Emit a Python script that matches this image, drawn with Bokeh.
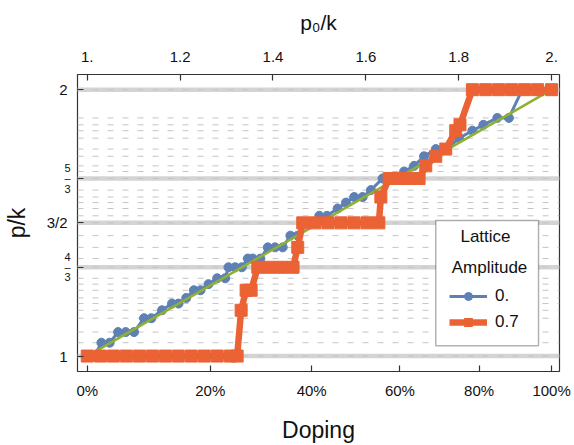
import math
from bokeh.plotting import figure
from bokeh.models import (Range1d, LinearAxis, FixedTicker, Span, Label,
                          BoxAnnotation, Legend, LegendItem)
from bokeh.embed import file_html
from bokeh.resources import INLINE

# ---------------- data ----------------
doping_ticks = [0.0, 0.2, 0.4, 0.6, 0.8, 1.0]
doping_labels = ["0%", "20%", "40%", "60%", "80%", "100%"]
p0_ticks = [1.0, 1.2, 1.4, 1.6, 1.8, 2.0]
p0_labels = ["1.", "1.2", "1.4", "1.6", "1.8", "2."]
pk_major = [1.0, 1.3333, 1.5, 1.6667, 2.0]
pk_major_labels = ["1", "", "3/2", "", "2"]
pk_frac_labels = ["", "4\n\u2013\n3", "", "5\n\u2013\n3", ""]
pk_levels = [1.0, 1.050, 1.090, 1.142, 1.172, 1.197, 1.218, 1.247, 1.270, 1.292,
             1.3333, 1.366, 1.408, 1.452, 1.5, 1.5265, 1.554, 1.576, 1.597, 1.623,
             1.6667, 1.693, 1.714, 1.750, 1.777, 1.818, 1.846, 1.868, 1.894, 2.0]

green_x = [1.0, 2.0]
green_y = [1.0, 2.0]

blue_x = [1.000, 1.0155, 1.0305, 1.0483, 1.0664, 1.0827, 1.1008, 1.1223, 1.1380, 1.1610,
          1.1825, 1.1966, 1.2132, 1.2297, 1.2439, 1.2611, 1.2798, 1.2970, 1.3041, 1.3185,
          1.3329, 1.3458, 1.3565, 1.3729, 1.3888, 1.4045, 1.4210, 1.4374, 1.4533, 1.4640,
          1.4818, 1.4997, 1.5162, 1.5392, 1.5571, 1.5749, 1.5930, 1.6108, 1.6359, 1.6581,
          1.6824, 1.7038, 1.7253, 1.7505, 1.7741, 1.8006, 1.8294, 1.8530, 1.8831, 1.9080,
          1.9368, 1.9654, 2.000]
blue_y = [1.0, 1.0, 1.050, 1.050, 1.090, 1.090, 1.090, 1.142, 1.142, 1.172,
          1.197, 1.197, 1.218, 1.247, 1.247, 1.270, 1.292, 1.292, 1.3333, 1.3333,
          1.3333, 1.366, 1.366, 1.366, 1.408, 1.408, 1.408, 1.452, 1.452, 1.5,
          1.5, 1.5265, 1.5265, 1.554, 1.576, 1.597, 1.597, 1.623, 1.6667, 1.6667,
          1.693, 1.714, 1.750, 1.777, 1.777, 1.818, 1.846, 1.868, 1.894, 1.894,
          2.0, 2.0, 2.0]

orange_x = [1.000, 1.0284, 1.0563, 1.0842, 1.1122, 1.1401, 1.1681, 1.1960, 1.2239, 1.2519,
            1.2798, 1.3078, 1.3228, 1.3314, 1.3421, 1.3529, 1.3673, 1.3916, 1.4174, 1.4432,
            1.4533, 1.4640, 1.4904, 1.5184, 1.5463, 1.5742, 1.6022, 1.6280, 1.6323, 1.6501,
            1.6710, 1.6925, 1.7146, 1.7290, 1.7505, 1.7720, 1.7935, 1.8027, 1.8294, 1.8580,
            1.8860, 1.9139, 1.9419, 1.9698, 2.000]
orange_y = [1.0, 1.0, 1.0, 1.0, 1.0, 1.0, 1.0, 1.0, 1.0, 1.0,
            1.0, 1.0, 1.0, 1.172, 1.247, 1.247, 1.3333, 1.3333, 1.3333, 1.3333,
            1.408, 1.5, 1.5, 1.5, 1.5, 1.5, 1.5, 1.5, 1.597, 1.6667,
            1.6667, 1.6667, 1.6667, 1.714, 1.750, 1.777, 1.846, 1.868, 2.0, 2.0,
            2.0, 2.0, 2.0, 2.0, 2.0]

legend_title = ["Lattice", "Amplitude"]
series_names = ["0.", "0.7"]
x_title_bottom = "Doping"
x_title_top = "p\u2080/k"
y_title = "p/k"

# ---------------- layout ----------------
FONT = "Liberation Sans"
TXT = "#111111"
BLUE, ORANGE, GREEN = "#5E81B5", "#EB6235", "#8FB032"
X0, X1 = 0.979, 2.017
Y0, Y1 = 0.942, 2.057
W, H = 574, 445
FL, FT, FW, FH = 76.0, 74.0, 483.0, 299.0   # frame box in page pixels


def sx(px):
    return X0 + (px - FL) / FW * (X1 - X0)


def sy(py):
    return Y1 - (py - FT) / FH * (Y1 - Y0)


def frame_label(px, py, text, size):
    # screen units, measured from the frame's bottom-left corner
    return Label(x=px - FL, y=FT + FH - py, x_units="screen", y_units="screen",
                 text=text, text_align="center", text_baseline="middle",
                 text_font=FONT, text_font_size=size, text_color=TXT)


p = figure(width=W, height=H, output_backend="svg", toolbar_location=None,
           x_range=Range1d(X0, X1), y_range=Range1d(Y0, Y1),
           x_axis_location=None, y_axis_location=None)
p.min_border_left = int(FL)
p.min_border_right = int(W - FL - FW)
p.min_border_top = int(FT)
p.min_border_bottom = int(H - FT - FH)
p.outline_line_color = "#333333"
p.outline_line_width = 1.2
p.xgrid.visible = False
p.ygrid.visible = False
p.background_fill_color = "white"


def style_axis(ax, size="15px"):
    ax.axis_line_color = None
    ax.major_tick_in = 6
    ax.major_tick_out = 0
    ax.minor_tick_line_color = None
    ax.major_tick_line_color = "#333333"
    ax.major_tick_line_width = 1.2
    ax.major_label_text_font = FONT
    ax.major_label_text_font_size = size
    ax.major_label_text_color = TXT
    ax.axis_label_text_font = FONT
    ax.axis_label_text_font_style = "normal"
    ax.axis_label_text_color = TXT


bottom = LinearAxis(ticker=FixedTicker(ticks=[math.sqrt(1 + 3 * d) for d in doping_ticks]))
bottom.major_label_overrides = {math.sqrt(1 + 3 * d): lab for d, lab in zip(doping_ticks, doping_labels)}
style_axis(bottom)
bottom.major_label_standoff = 10
bottom.axis_label = x_title_bottom
bottom.axis_label_text_font_size = "23px"
bottom.axis_label_standoff = 15
p.add_layout(bottom, "below")

top = LinearAxis(ticker=FixedTicker(ticks=p0_ticks))
top.major_label_overrides = {t: lab for t, lab in zip(p0_ticks, p0_labels)}
style_axis(top)
top.major_label_standoff = 13
top.axis_label = x_title_top
top.axis_label_text_font_size = "21px"
top.axis_label_standoff = 15
p.add_layout(top, "above")

# inner left axis: ticks and the stacked fractions
left_in = LinearAxis(ticker=FixedTicker(ticks=pk_major))
left_in.major_label_overrides = {t: lab for t, lab in zip(pk_major, pk_frac_labels)}
style_axis(left_in, "11px")
left_in.major_label_text_line_height = 0.85
left_in.major_label_standoff = 7
p.add_layout(left_in, "left")

# outer left axis: plain labels and the title
left_out = LinearAxis(ticker=FixedTicker(ticks=pk_major))
left_out.major_label_overrides = {t: lab for t, lab in zip(pk_major, pk_major_labels)}
style_axis(left_out)
left_out.major_tick_line_color = None
left_out.major_tick_in = 0
left_out.major_label_standoff = -6
left_out.axis_label = y_title
left_out.axis_label_text_font_size = "23px"
left_out.axis_label_standoff = 14
p.add_layout(left_out, "left")

# grid lines
for lv in pk_major:
    p.add_layout(Span(location=lv, dimension="width", line_color="#d4d4d4",
                      line_width=4.5, level="underlay"))
for lv in pk_levels:
    p.add_layout(Span(location=lv, dimension="width", line_color="#c4c4c4",
                      line_width=1, line_dash="6 9", level="underlay"))

# data
rb_line = p.line(blue_x, blue_y, line_color=BLUE, line_width=3)
rb_pts = p.scatter(blue_x, blue_y, marker="circle", size=9, fill_color=BLUE, line_color=BLUE)
p.line(green_x, green_y, line_color=GREEN, line_width=2.5)
ro_line = p.line(orange_x, orange_y, line_color=ORANGE, line_width=6.5)
ro_pts = p.scatter(orange_x, orange_y, marker="square", size=12, fill_color=ORANGE, line_color=ORANGE)

# legend
p.add_layout(BoxAnnotation(left=sx(435), right=sx(538), top=sy(221), bottom=sy(347),
                           fill_color="white", fill_alpha=1.0, line_color="black",
                           line_width=1.5))
p.add_layout(frame_label(484, 238, legend_title[0], "17px"))
p.add_layout(frame_label(488, 269, legend_title[1], "17px"))
legend = Legend(items=[LegendItem(label=series_names[0], renderers=[rb_line, rb_pts]),
                       LegendItem(label=series_names[1], renderers=[ro_line, ro_pts])],
                location=(372, 39), padding=0, margin=0, spacing=6,
                glyph_width=38, glyph_height=20, label_height=20, label_standoff=8,
                label_text_font=FONT, label_text_font_size="17px",
                label_text_color=TXT,
                background_fill_alpha=0, border_line_alpha=0)
p.add_layout(legend, "center")

open("out.html", "w").write(file_html(p, INLINE))
